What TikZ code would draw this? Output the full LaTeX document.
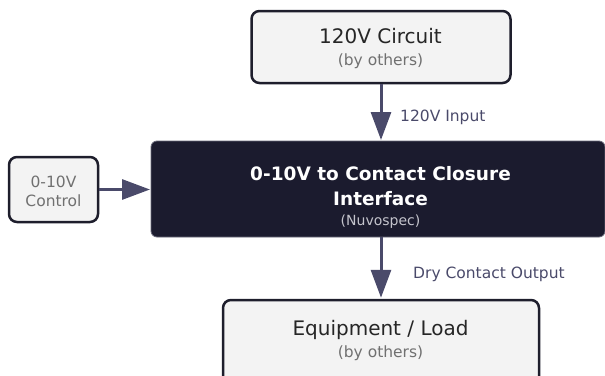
\documentclass[tikz,border=0pt]{standalone}
\usepackage{fontspec}
\setmainfont{DejaVu Sans}
\usetikzlibrary{arrows.meta}

\definecolor{boxfill}{HTML}{F3F3F3}
\definecolor{boxline}{HTML}{1E1E2C}
\definecolor{corefill}{HTML}{1B1B2E}
\definecolor{coreedge}{HTML}{6A6A7A}
\definecolor{flow}{HTML}{4A4A6A}
\definecolor{subgray}{HTML}{707070}
\definecolor{corenote}{HTML}{C4C4CC}

\tikzset{
  extbox/.style={draw=boxline, line width=2.5pt, fill=boxfill, rounded corners=8pt, inner sep=0pt},
  corebox/.style={draw=coreedge, line width=0.8pt, fill=corefill, rounded corners=6pt, inner sep=0pt, outer sep=0pt},
  flowarrow/.style={draw=flow, line width=3pt, -{Triangle[length=28pt,width=20pt]}, shorten >=1pt},
  txt/.style={anchor=base, inner sep=0pt, font=\fontsize{#1}{#1}\selectfont},
  main/.style={txt=20, text=black!85},
  sub/.style={txt=15.5, text=subgray},
  flowlabel/.style={anchor=base west, inner sep=0pt, font=\fontsize{15.5}{16}\selectfont, text=flow},
}

\begin{document}
\begin{tikzpicture}[x=1pt, y=-1pt]
  \useasboundingbox (0,0) rectangle (605,375);
  \clip (0,0) rectangle (605,375);

  % boxes
  \node[extbox, minimum width=259pt, minimum height=72pt] (src) at (381,47) {};
  \node[extbox, minimum width=89pt, minimum height=65pt] (ctl) at (53.5,189.5) {};
  \node[corebox, minimum width=454pt, minimum height=96pt] (core) at (378,189) {};
  \node[extbox, minimum width=316pt, minimum height=100pt] (load) at (381,350) {};

  % box texts
  \node[main] (srcT) at (380.5,43) {120V Circuit};
  \node[sub] (srcS) at (380.5,65) {(by others)};

  \node[sub] (ctlA) at (53.5,187) {0-10V};
  \node[sub] (ctlB) at (53.5,206) {Control};

  \node[txt=18.5, text=white, font=\bfseries\fontsize{18.5}{19}\selectfont] (coreA) at (380.5,180) {0-10V to Contact Closure};
  \node[txt=18.5, text=white, font=\bfseries\fontsize{18.5}{19}\selectfont] (coreB) at (380.5,205) {Interface};
  \node[txt=14, text=corenote] (coreC) at (380.5,225) {(Nuvospec)};

  \node[main] (loadT) at (380.5,335) {Equipment / Load};
  \node[sub] (loadS) at (380.5,357) {(by others)};

  % connectors
  \draw[flowarrow] (src.south) -- (src.south |- core.north);
  \draw[flowarrow] (ctl.east) -- (core.west |- ctl.east);
  \draw[flowarrow] (load.north |- core.south) -- (load.north);

  % connector labels
  \node[flowlabel] (inL) at (400,121) {120V Input};
  \node[flowlabel] (outL) at (413,278) {Dry Contact Output};
\end{tikzpicture}
\end{document}
